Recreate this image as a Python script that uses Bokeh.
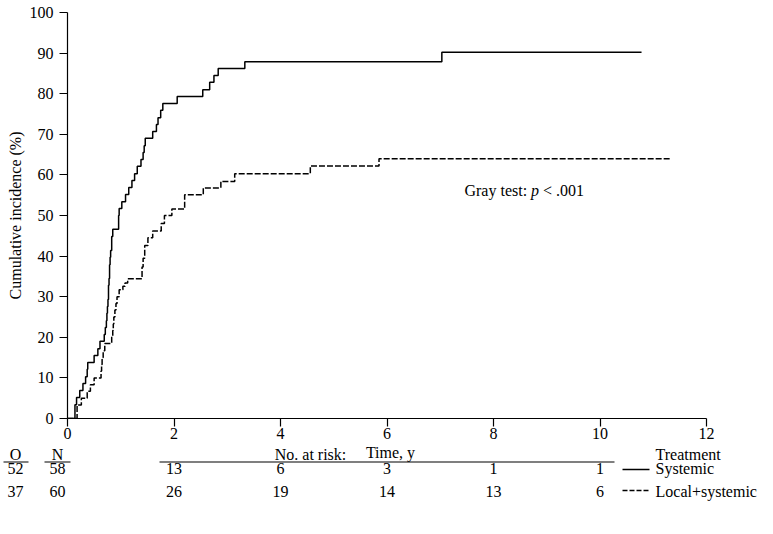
from bokeh.plotting import figure
from bokeh.models import Range1d, FixedTicker
from bokeh.layouts import column
from bokeh.embed import file_html
from bokeh.resources import INLINE
from bokeh.core.properties import value

# ---------------- data ----------------
sys_t = [0, 0.14, 0.17, 0.23, 0.29, 0.34, 0.37, 0.38, 0.50, 0.57,
         0.61, 0.69, 0.71, 0.73, 0.74, 0.75, 0.76, 0.77, 0.78, 0.79,
         0.80, 0.81, 0.83, 0.85, 0.96, 0.97, 1.02, 1.09, 1.15, 1.21,
         1.26, 1.31, 1.38, 1.42, 1.44, 1.46, 1.60, 1.67, 1.70, 1.75,
         1.79, 2.06, 2.54, 2.67, 2.75, 2.83, 3.33, 7.03, 10.78]
sys_y = [0, 3.4, 5.2, 6.9, 8.6, 10.3, 12.1, 13.8, 15.5, 17.2,
         19.0, 20.7, 22.4, 24.1, 25.9, 27.6, 29.3, 32.8, 34.5, 37.9,
         39.7, 41.4, 44.8, 46.6, 50.0, 51.7, 53.4, 55.2, 56.9, 58.6,
         60.3, 62.1, 63.8, 65.5, 67.2, 69.0, 70.7, 72.4, 74.1, 75.9,
         77.6, 79.3, 81.0, 82.8, 84.5, 86.2, 87.9, 90.2, 90.2]

loc_t = [0, 0.18, 0.26, 0.37, 0.43, 0.50, 0.63, 0.64, 0.65, 0.67,
         0.70, 0.83, 0.85, 0.86, 0.87, 0.89, 0.91, 0.93, 0.97, 1.04,
         1.08, 1.13, 1.40, 1.42, 1.45, 1.51, 1.60, 1.76, 1.82, 1.96,
         2.20, 2.55, 2.88, 3.14, 4.56, 5.85, 11.32]
loc_y = [0, 3.3, 5.0, 6.7, 8.3, 10.0, 11.7, 13.3, 15.0, 16.7,
         18.5, 20.0, 21.7, 23.3, 25.0, 26.7, 28.3, 30.0, 31.7, 32.6,
         33.4, 34.4, 37.3, 39.5, 42.6, 44.5, 46.2, 48.0, 50.0, 51.6,
         55.1, 56.8, 58.4, 60.3, 62.2, 64.0, 64.0]

x_ticks = [0, 2, 4, 6, 8, 10, 12]
y_ticks = [0, 10, 20, 30, 40, 50, 60, 70, 80, 90, 100]

risk_times = [2, 4, 6, 8, 10]
risk_systemic = ["13", "6", "3", "1", "1"]
risk_local = ["26", "19", "14", "13", "6"]
groups = ["Systemic", "Local+systemic"]
observed = ["52", "37"]
numbers = ["58", "60"]

FONT = "Liberation Serif"
FS = "16px"

# ---------------- layout constants ----------------
W, H = 773, 534
LEFT, RIGHT, TOP = 67, 67, 12
FRAME_W = W - LEFT - RIGHT          # 639
FRAME_H = 406
BOTTOM1 = 24
H1 = TOP + FRAME_H + BOTTOM1        # 442
H2 = H - H1                         # 92
PX_PER_X = FRAME_W / 12.0


def px2x(page_x):
    """page pixel column -> data x (shared horizontal scale)"""
    return (page_x - LEFT) / PX_PER_X


# ---------------- main plot ----------------
p1 = figure(frame_width=FRAME_W, frame_height=FRAME_H,
            x_range=Range1d(0, 12), y_range=Range1d(0, 100),
            output_backend="svg", toolbar_location=None,
            min_border_left=LEFT, min_border_right=RIGHT,
            min_border_top=TOP, min_border_bottom=BOTTOM1)
p1.frame_align = False
p1.outline_line_color = None
p1.grid.visible = False

for ax in (p1.xaxis[0], p1.yaxis[0]):
    ax.axis_line_color = "black"
    ax.axis_line_width = 1.2
    ax.major_tick_line_color = "black"
    ax.major_tick_line_width = 1.2
    ax.major_tick_out = 8
    ax.major_tick_in = 0
    ax.minor_tick_line_color = None
    ax.major_label_text_font = FONT
    ax.major_label_text_font_size = FS
    ax.major_label_text_color = "black"
    ax.axis_label_text_font = FONT
    ax.axis_label_text_font_size = FS
    ax.axis_label_text_font_style = "normal"
    ax.axis_label_text_color = "black"

p1.xaxis.ticker = FixedTicker(ticks=x_ticks)
p1.yaxis.ticker = FixedTicker(ticks=y_ticks)
p1.xaxis.major_label_standoff = 1
p1.yaxis.major_label_standoff = 6
p1.yaxis.axis_label = "Cumulative incidence (%)"
p1.yaxis.axis_label_standoff = 3

p1.step(sys_t, sys_y, mode="after", line_color="black", line_width=1.5)
p1.step(loc_t, loc_y, mode="after", line_color="black", line_width=1.5, line_dash="6 2")

gx, gy = 7.455, 56.1
common = dict(text_font=value(FONT), text_font_size=FS, text_color="black",
              text_baseline="middle", text_align="left")
p1.text(x=[gx], y=[gy], text=["Gray test:"], **common)
p1.text(x=[gx], y=[gy], text=["p"], x_offset=66.5, text_font_style="italic", **common)
p1.text(x=[gx], y=[gy], text=["< .001"], x_offset=78.5, **common)

# ---------------- at-risk table (second figure, page-pixel y scale) ----------------
p2 = figure(width=W, height=H2,
            x_range=Range1d(px2x(0), px2x(W)), y_range=Range1d(start=H, end=H1),
            output_backend="svg", toolbar_location=None, min_border=0,
            x_axis_type=None, y_axis_type=None)
p2.frame_align = False
p2.outline_line_color = None
p2.grid.visible = False

TITLE_Y, HEAD_Y, ROW1_Y, ROW2_Y, RULE_Y = 451.5, 454, 468, 490.5, 461.5
LEG1_Y, LEG2_Y = 469, 490

ctr = dict(text_font=value(FONT), text_font_size=FS, text_color="black",
           text_baseline="middle", text_align="center")
lft = dict(text_font=value(FONT), text_font_size=FS, text_color="black",
           text_baseline="middle", text_align="left")

p2.text(x=[px2x(390)], y=[TITLE_Y], text=["Time, y"], **ctr)

col_o, col_n = px2x(15), px2x(57)
p2.text(x=[col_o, col_n], y=[HEAD_Y, HEAD_Y], text=["O", "N"], **ctr)
p2.segment(x0=[px2x(3), px2x(44)], y0=[RULE_Y, RULE_Y],
           x1=[px2x(28), px2x(70)], y1=[RULE_Y, RULE_Y],
           line_color="black", line_width=1.2)
p2.text(x=[col_o, col_o], y=[ROW1_Y, ROW2_Y], text=observed, **ctr)
p2.text(x=[col_n, col_n], y=[ROW1_Y, ROW2_Y], text=numbers, **ctr)

p2.text(x=[px2x(310)], y=[HEAD_Y], text=["No. at risk:"], **ctr)
p2.segment(x0=[px2x(159)], y0=[RULE_Y], x1=[px2x(614)], y1=[RULE_Y],
           line_color="black", line_width=1.2)
p2.text(x=risk_times, y=[ROW1_Y] * len(risk_times), text=risk_systemic, **ctr)
p2.text(x=risk_times, y=[ROW2_Y] * len(risk_times), text=risk_local, **ctr)

p2.text(x=[px2x(655)], y=[HEAD_Y], text=["Treatment"], **lft)
p2.segment(x0=[px2x(622)], y0=[LEG1_Y], x1=[px2x(649)], y1=[LEG1_Y],
           line_color="black", line_width=1.5)
p2.segment(x0=[px2x(622)], y0=[LEG2_Y], x1=[px2x(649)], y1=[LEG2_Y],
           line_color="black", line_width=1.5, line_dash="5 2")
p2.text(x=[px2x(655), px2x(655)], y=[ROW1_Y, ROW2_Y], text=groups, **lft)

layout = column(p1, p2, spacing=0)
open("out.html", "w").write(file_html(layout, INLINE))
